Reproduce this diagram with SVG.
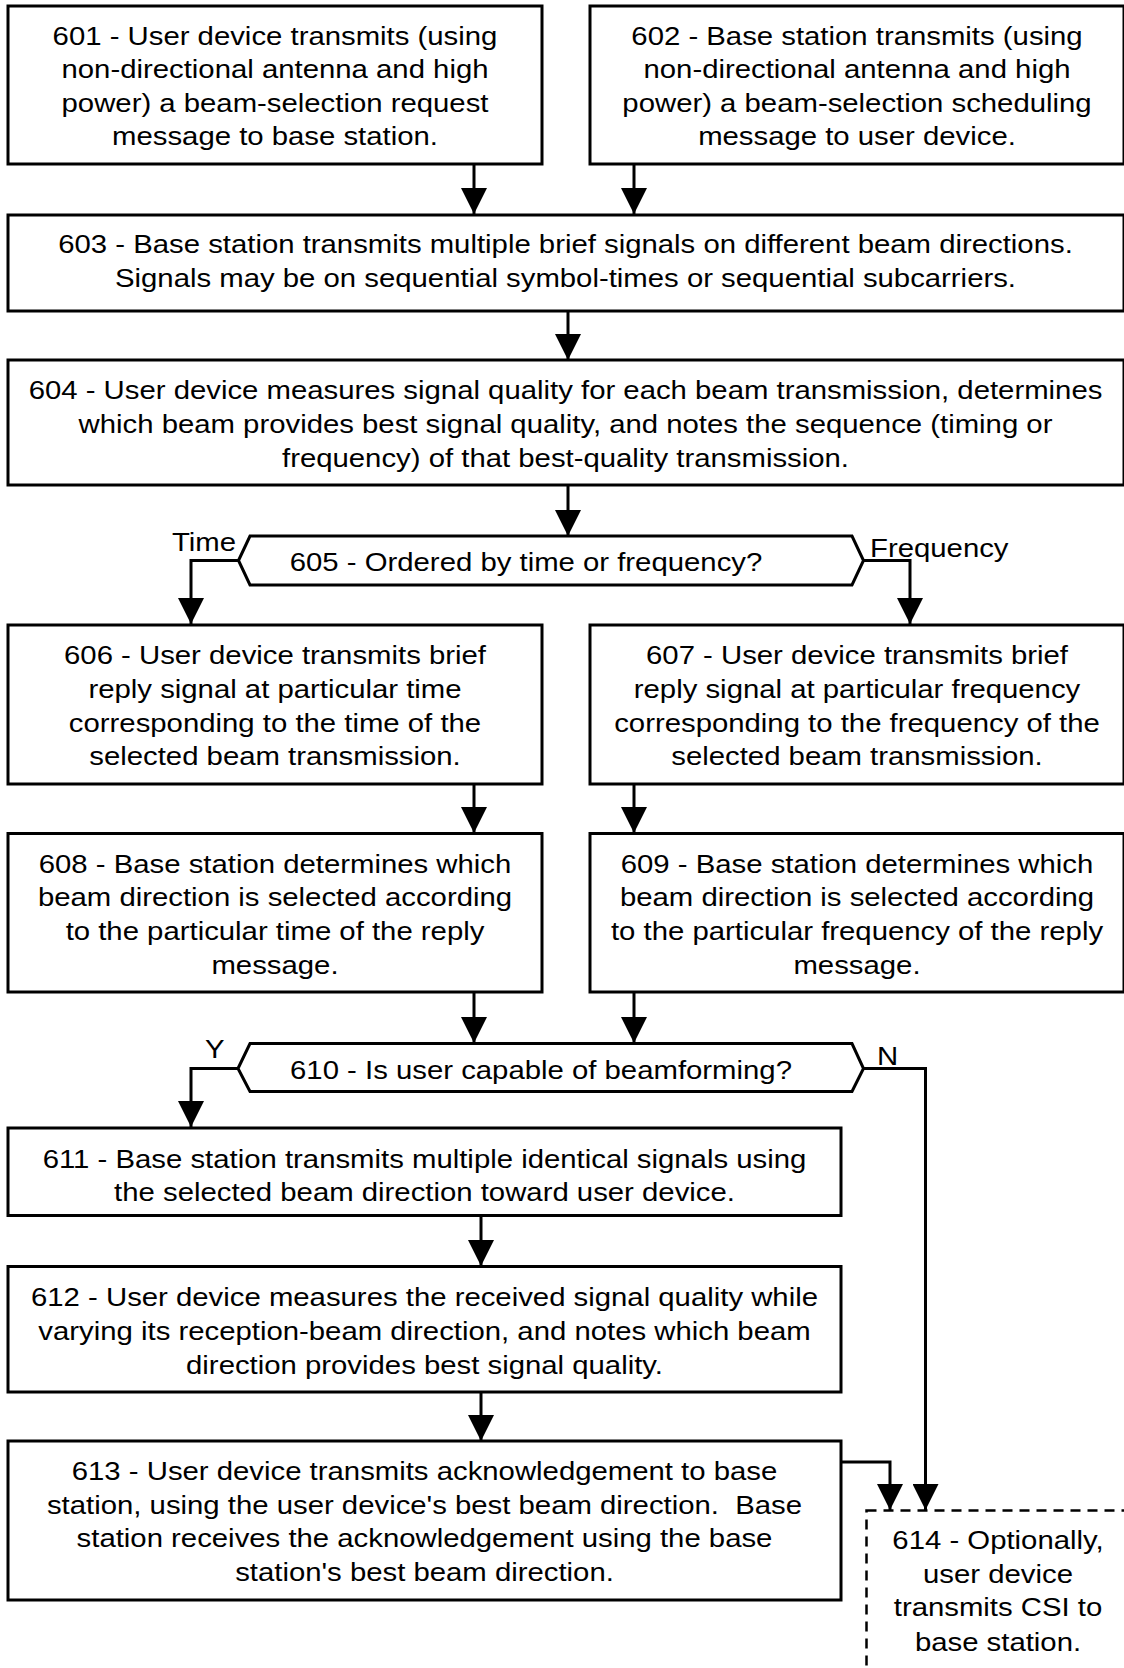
<svg xmlns="http://www.w3.org/2000/svg" width="1124" height="1668" viewBox="0 0 1124 1668">
<defs>
<marker id="ah" viewBox="0 0 26 26" markerWidth="26" markerHeight="26" refX="26" refY="13" orient="auto" markerUnits="userSpaceOnUse">
<path d="M0,0 L26,13 L0,26 Z" fill="#000"/>
</marker>
<style>
.box{fill:#fff;stroke:#000;stroke-width:3}
.dash{fill:#fff;stroke:#000;stroke-width:2.5;stroke-dasharray:10,7}
.t{font-family:"Liberation Sans",Arial,sans-serif;font-size:25.5px;fill:#000;text-anchor:middle}
.l{font-family:"Liberation Sans",Arial,sans-serif;font-size:25.5px;fill:#000}
.c{fill:none;stroke:#000;stroke-width:3;marker-end:url(#ah)}
</style>
</defs>
<rect width="1124" height="1668" fill="#fff"/>

<g id="connectors">
<path class="c" d="M474,164 V214"/>
<path class="c" d="M634,164 V214"/>
<path class="c" d="M568,311 V360"/>
<path class="c" d="M568,485 V536"/>
<path class="c" d="M238.5,560.5 H191 V624"/>
<path class="c" d="M863.5,560.5 H910 V624"/>
<path class="c" d="M474,784 V833"/>
<path class="c" d="M634,784 V833"/>
<path class="c" d="M474,992 V1043"/>
<path class="c" d="M634,992 V1043"/>
<path class="c" d="M238,1068.5 H191 V1127"/>
<path class="c" d="M863.5,1068.5 H925.5 V1510"/>
<path class="c" d="M481,1215.5 V1266"/>
<path class="c" d="M481,1392 V1441"/>
<path class="c" d="M841,1462 H890 V1510"/>
<g transform="translate(236,551) scale(1.15,1)"><text class="l" text-anchor="end">Time</text></g>
<g transform="translate(870,557) scale(1.15,1)"><text class="l">Frequency</text></g>
<g transform="translate(205,1058) scale(1.15,1)"><text class="l">Y</text></g>
<g transform="translate(877,1065) scale(1.15,1)"><text class="l">N</text></g>
</g>

<g id="n601">
<rect class="box" x="8" y="6" width="534" height="158"/>
<g transform="translate(275,0) scale(1.15,1)"><text class="t"><tspan x="0" y="45">601 - User device transmits (using</tspan><tspan x="0" y="78.5">non-directional antenna and high</tspan><tspan x="0" y="112">power) a beam-selection request</tspan><tspan x="0" y="145.5">message to base station.</tspan></text></g>
</g>

<g id="n602">
<rect class="box" x="590" y="6" width="534" height="158"/>
<g transform="translate(857,0) scale(1.15,1)"><text class="t"><tspan x="0" y="45">602 - Base station transmits (using</tspan><tspan x="0" y="78.5">non-directional antenna and high</tspan><tspan x="0" y="112">power) a beam-selection scheduling</tspan><tspan x="0" y="145.5">message to user device.</tspan></text></g>
</g>

<g id="n603">
<rect class="box" x="8" y="215" width="1116" height="96"/>
<g transform="translate(565.5,0) scale(1.15,1)"><text class="t"><tspan x="0" y="253">603 - Base station transmits multiple brief signals on different beam directions.</tspan><tspan x="0" y="287">Signals may be on sequential symbol-times or sequential subcarriers.</tspan></text></g>
</g>

<g id="n604">
<rect class="box" x="8" y="360" width="1116" height="125"/>
<g transform="translate(565.5,0) scale(1.15,1)"><text class="t"><tspan x="0" y="399">604 - User device measures signal quality for each beam transmission, determines</tspan><tspan x="0" y="433">which beam provides best signal quality, and notes the sequence (timing or</tspan><tspan x="0" y="467">frequency) of that best-quality transmission.</tspan></text></g>
</g>

<g id="n605">
<path class="box" d="M238.5,560.5 L250,536 H852 L863.5,560.5 L852,585 H250 Z"/>
<g transform="translate(526,0) scale(1.15,1)"><text class="t"><tspan x="0" y="571.5">605 - Ordered by time or frequency?</tspan></text></g>
</g>

<g id="n606">
<rect class="box" x="8" y="625" width="534" height="159"/>
<g transform="translate(275,0) scale(1.15,1)"><text class="t"><tspan x="0" y="664">606 - User device transmits brief</tspan><tspan x="0" y="698">reply signal at particular time</tspan><tspan x="0" y="732">corresponding to the time of the</tspan><tspan x="0" y="765">selected beam transmission.</tspan></text></g>
</g>

<g id="n607">
<rect class="box" x="590" y="625" width="534" height="159"/>
<g transform="translate(857,0) scale(1.15,1)"><text class="t"><tspan x="0" y="664">607 - User device transmits brief</tspan><tspan x="0" y="698">reply signal at particular frequency</tspan><tspan x="0" y="732">corresponding to the frequency of the</tspan><tspan x="0" y="765">selected beam transmission.</tspan></text></g>
</g>

<g id="n608">
<rect class="box" x="8" y="833.5" width="534" height="158.5"/>
<g transform="translate(275,0) scale(1.15,1)"><text class="t"><tspan x="0" y="873">608 - Base station determines which</tspan><tspan x="0" y="906.5">beam direction is selected according</tspan><tspan x="0" y="940">to the particular time of the reply</tspan><tspan x="0" y="974">message.</tspan></text></g>
</g>

<g id="n609">
<rect class="box" x="590" y="833.5" width="534" height="158.5"/>
<g transform="translate(857,0) scale(1.15,1)"><text class="t"><tspan x="0" y="873">609 - Base station determines which</tspan><tspan x="0" y="906.5">beam direction is selected according</tspan><tspan x="0" y="940">to the particular frequency of the reply</tspan><tspan x="0" y="974">message.</tspan></text></g>
</g>

<g id="n610">
<path class="box" d="M238,1068.5 L250,1043.5 H852 L863.5,1068.5 L852,1091.5 H250 Z"/>
<g transform="translate(541,0) scale(1.15,1)"><text class="t"><tspan x="0" y="1079">610 - Is user capable of beamforming?</tspan></text></g>
</g>

<g id="n611">
<rect class="box" x="8" y="1128" width="833" height="87.5"/>
<g transform="translate(424.5,0) scale(1.15,1)"><text class="t"><tspan x="0" y="1168">611 - Base station transmits multiple identical signals using</tspan><tspan x="0" y="1201">the selected beam direction toward user device.</tspan></text></g>
</g>

<g id="n612">
<rect class="box" x="8" y="1266.5" width="833" height="125.5"/>
<g transform="translate(424.5,0) scale(1.15,1)"><text class="t"><tspan x="0" y="1306">612 - User device measures the received signal quality while</tspan><tspan x="0" y="1340">varying its reception-beam direction, and notes which beam</tspan><tspan x="0" y="1374">direction provides best signal quality.</tspan></text></g>
</g>

<g id="n613">
<rect class="box" x="8" y="1441" width="833" height="159"/>
<g transform="translate(424.5,0) scale(1.15,1)"><text class="t"><tspan x="0" y="1480">613 - User device transmits acknowledgement to base</tspan><tspan x="0" y="1514">station, using the user device's best beam direction.&#160; Base</tspan><tspan x="0" y="1547">station receives the acknowledgement using the base</tspan><tspan x="0" y="1581">station's best beam direction.</tspan></text></g>
</g>

<g id="n614">
<rect class="dash" x="866.5" y="1510.5" width="280" height="180"/>
<g transform="translate(998,0) scale(1.15,1)"><text class="t"><tspan x="0" y="1549">614 - Optionally,</tspan><tspan x="0" y="1583.5">user device</tspan><tspan x="0" y="1616.5">transmits CSI to</tspan><tspan x="0" y="1651">base station.</tspan></text></g>
</g>
</svg>
